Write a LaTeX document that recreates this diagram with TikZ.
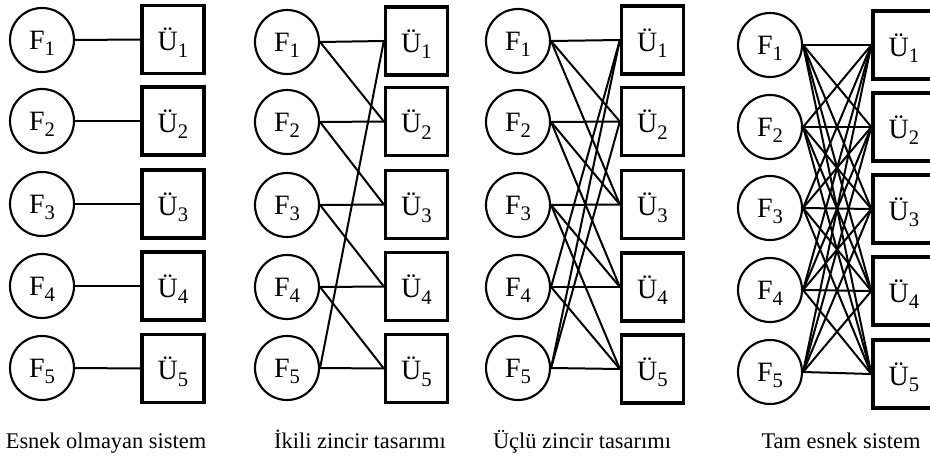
\documentclass[tikz,border=0pt]{standalone}
\usepackage{fontspec}
\setmainfont{Liberation Serif}
\newcommand\sbx[1]{\raisebox{-5pt}[0pt][0pt]{\fontsize{15.5}{16}\selectfont #1}}
\begin{document}
\begin{tikzpicture}[x=0.75pt,y=-0.75pt,
  fnode/.style={circle, draw, line width=1.6pt, minimum size=48pt, inner sep=0pt, font=\fontsize{21}{22}\selectfont},
  unode/.style={rectangle, draw, line width=2.5pt, minimum width=46.5pt, minimum height=51pt, inner sep=0pt, font=\fontsize{21}{22}\selectfont},
  link/.style={line width=1.5pt},
  lbl/.style={font=\fontsize{16.8}{18}\selectfont, anchor=base, inner sep=0pt}]
\useasboundingbox (0,0) rectangle (930,456);
% panel 1
\foreach \y [count=\i] in {40,121,204,286,368} \node[fnode] (af\i) at (42,\y) {F\sbx{\i}};
\foreach \y [count=\i] in {39.5,121,204,286,368.5} \node[unode] (au\i) at (173,\y) {Ü\sbx{\i}};
% panel 2
\foreach \y [count=\i] in {42,122,205,287,368} \node[fnode] (bf\i) at (287,\y) {F\sbx{\i}};
\foreach \y [count=\i] in {41,121.5,204.5,286.5,368.5} \node[unode] (bu\i) at (416.5,\y) {Ü\sbx{\i}};
% panel 3
\foreach \y [count=\i] in {41,122,205,287,368} \node[fnode] (cf\i) at (518,\y) {F\sbx{\i}};
\foreach \y [count=\i] in {40,121.5,204.5,287,369} \node[unode] (cu\i) at (652.5,\y) {Ü\sbx{\i}};
% panel 4
\foreach \y [count=\i] in {45,127,208,290,372} \node[fnode] (df\i) at (770,\y) {F\sbx{\i}};
\foreach \y [count=\i] in {45,127,209,291,374} \node[unode] (du\i) at (904,\y) {Ü\sbx{\i}};
% connectors
\foreach \i in {1,...,5} \draw[link] (af\i.east) -- (au\i.west);
\foreach \i/\j in {1/1,1/2,2/2,2/3,3/3,3/4,4/4,4/5,5/5,5/1} \draw[link] (bf\i.east) -- (bu\j.west);
\foreach \i/\j in {1/1,1/2,1/3,2/2,2/3,2/4,3/3,3/4,3/5,4/4,4/5,4/1,5/5,5/1,5/2} \draw[link] (cf\i.east) -- (cu\j.west);
\foreach \i in {1,...,5} \foreach \j in {1,...,5} \draw[link] (df\i.east) -- (du\j.west);
% captions
\node[lbl] (l1) at (106,448) {Esnek olmayan sistem};
\node[lbl] (l2) at (360,448) {İkili zincir tasarımı};
\node[lbl] (l3) at (582,448) {Üçlü zincir tasarımı};
\node[lbl] (l4) at (841,448) {Tam esnek sistem};
\end{tikzpicture}
\end{document}
